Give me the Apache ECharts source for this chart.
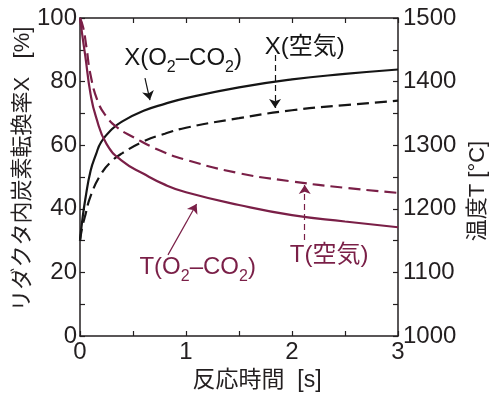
<!DOCTYPE html>
<html><head><meta charset="utf-8">
<script src="https://cdn.jsdelivr.net/npm/echarts@6/dist/echarts.min.js"></script>
<style>html,body{margin:0;padding:0;background:#fff}#c{width:492px;height:398px}</style>
</head><body><div id="c"></div>
<script>
// ---- data ----
const tX_O2 = [0, 0.02, 0.05, 0.1, 0.15, 0.2, 0.3, 0.4, 0.6, 0.8, 1, 1.5, 2, 2.5, 3];
const X_O2  = [30, 36, 43, 52, 57, 61, 65, 67.5, 70.8, 73, 74.8, 78.2, 80.7, 82.4, 83.8];
const tX_air = [0, 0.02, 0.05, 0.1, 0.2, 0.3, 0.4, 0.6, 0.8, 1, 1.5, 2, 2.5, 3];
const X_air  = [30, 34, 38, 44, 51, 55, 57.5, 61.2, 63.6, 65.5, 68.5, 71, 72.6, 74];
const tT_O2 = [0, 0.02, 0.05, 0.1, 0.15, 0.25, 0.4, 0.6, 0.8, 1, 1.5, 2, 2.5, 3];
const T_O2  = [1500, 1475, 1440, 1380, 1345, 1302, 1275, 1255, 1238, 1226, 1206, 1190, 1180, 1171];
const tT_air = [0, 0.03, 0.06, 0.1, 0.17, 0.25, 0.35, 0.5, 0.75, 1, 1.5, 2, 2.5, 3];
const T_air  = [1500, 1485, 1455, 1410, 1368, 1345, 1328, 1313, 1292, 1277, 1256, 1243, 1233, 1225];
const xTicks = [0, 1, 2, 3];
const yLeftTicks = [0, 20, 40, 60, 80, 100];
const yRightTicks = [1000, 1100, 1200, 1300, 1400, 1500];
const xName = '反応時間  [s]';
const yLeftName = 'リダクタ内炭素転換率X   [%]';
const yRightName = '温度T [°C]';

const F = '"Liberation Sans", "Noto Sans CJK JP", sans-serif';
const BLACK = '#151515';
const MAROON = '#7a1f47';
const AX = '#231f20';
const zip = (a, b) => a.map((v, i) => [v, b[i]]);
const near = (v, arr) => arr.some(x => Math.abs(x - v) < 1e-6);

const axisCommon = {
  axisLine: {show: true, onZero: false, lineStyle: {color: AX, width: 1.5}},
  axisTick: {show: true, inside: true, length: 5, lineStyle: {color: AX, width: 1.2}},
  splitLine: {show: false},
  axisLabel: {color: AX, fontFamily: F, fontSize: 24}
};

const chart = echarts.init(document.getElementById('c'), null, {renderer: 'canvas'});
const arrowLine = (from, to, color, dashed) => ({
  silent: true, symbol: ['none', 'arrow'], symbolSize: 9, animation: false,
  label: {show: false},
  lineStyle: {color, width: 1.2, type: dashed ? [6, 4] : 'solid'},
  data: [[{coord: from}, {coord: to}]]
});
const lineSeries = (name, t, v, axis, color, dashed, ml) => ({
  type: 'line', name, data: zip(t, v), yAxisIndex: axis,
  showSymbol: false, smooth: 0.5,
  lineStyle: {color, width: 2.2, type: dashed ? [12, 6] : 'solid'},
  markLine: ml
});

chart.setOption({
  animation: false,
  grid: {left: 80, right: 94, top: 18, bottom: 62, containLabel: false, outerBoundsMode: 'none'},
  xAxis: [
    Object.assign({}, axisCommon, {
      type: 'value', min: 0, max: 3, interval: 0.5, position: 'bottom',
      name: xName, nameLocation: 'middle', nameGap: 32,
      nameTextStyle: {fontFamily: F, fontSize: 23, color: AX, padding: [0, 0, 0, 36]},
      axisLabel: Object.assign({}, axisCommon.axisLabel, {margin: 4,
        formatter: v => near(v, xTicks) ? String(v) : ''})
    }),
    Object.assign({}, axisCommon, {
      type: 'value', min: 0, max: 3, interval: 0.5, position: 'top',
      axisLabel: {show: false}
    })
  ],
  yAxis: [
    Object.assign({}, axisCommon, {
      type: 'value', min: 0, max: 100, interval: 10, position: 'left',
      axisLabel: Object.assign({}, axisCommon.axisLabel, {margin: 3,
        formatter: v => near(v, yLeftTicks) ? String(v) : ''})
    }),
    Object.assign({}, axisCommon, {
      type: 'value', min: 1000, max: 1500, interval: 50, position: 'right',
      axisLabel: Object.assign({}, axisCommon.axisLabel, {margin: 5,
        formatter: v => near(v, yRightTicks) ? String(v) : ''})
    })
  ],
  series: [
    lineSeries('X(O2-CO2)', tX_O2, X_O2, 0, BLACK, false, arrowLine([0.613, 81.1], [0.66, 74.2], BLACK, false)),
    lineSeries('X(air)', tX_air, X_air, 0, BLACK, true, arrowLine([1.84, 88.4], [1.84, 71.7], BLACK, true)),
    lineSeries('T(O2-CO2)', tT_O2, T_O2, 1, MAROON, false, arrowLine([0.83, 1127.5], [1.10, 1207.5], MAROON, false)),
    lineSeries('T(air)', tT_air, T_air, 1, MAROON, true, arrowLine([2.12, 1151], [2.12, 1237.5], MAROON, true))
  ]
});

// annotation labels, anchored in data coordinates
const labels = [
  {at: [0.972, 87.4], text: '{a|X(O}{s|2}{a|–CO}{s|2}{a|)}', color: BLACK},
  {at: [2.12, 90.9], text: '{a|X(空気)}', color: BLACK},
  {at: [2.35, 25.5], text: '{a|T(空気)}', color: MAROON},
  {at: [1.11, 21.7], text: '{a|T(O}{s|2}{a|–CO}{s|2}{a|)}', color: MAROON}
];
const g = labels.map(l => {
  const p = chart.convertToPixel({xAxisIndex: 0, yAxisIndex: 0}, l.at);
  return {
    type: 'text', x: p[0], y: p[1], silent: true,
    style: {
      text: l.text, align: 'center', verticalAlign: 'middle',
      rich: {
        a: {fontFamily: F, fontSize: 24, fill: l.color, lineHeight: 30},
        s: {fontFamily: F, fontSize: 16, fill: l.color, padding: [20, 0, 0, 0], lineHeight: 18}
      }
    }
  };
});
// rotated y-axis titles
g.push({type: 'text', x: 23, y: 169, rotation: Math.PI / 2, silent: true,
  style: {text: yLeftName, fontFamily: F, fontSize: 22, fill: AX, align: 'center', verticalAlign: 'middle'}});
g.push({type: 'text', x: 478, y: 191, rotation: Math.PI / 2, silent: true,
  style: {text: yRightName, fontFamily: F, fontSize: 22, fill: AX, align: 'center', verticalAlign: 'middle'}});
chart.setOption({graphic: g});
</script>
</body></html>
